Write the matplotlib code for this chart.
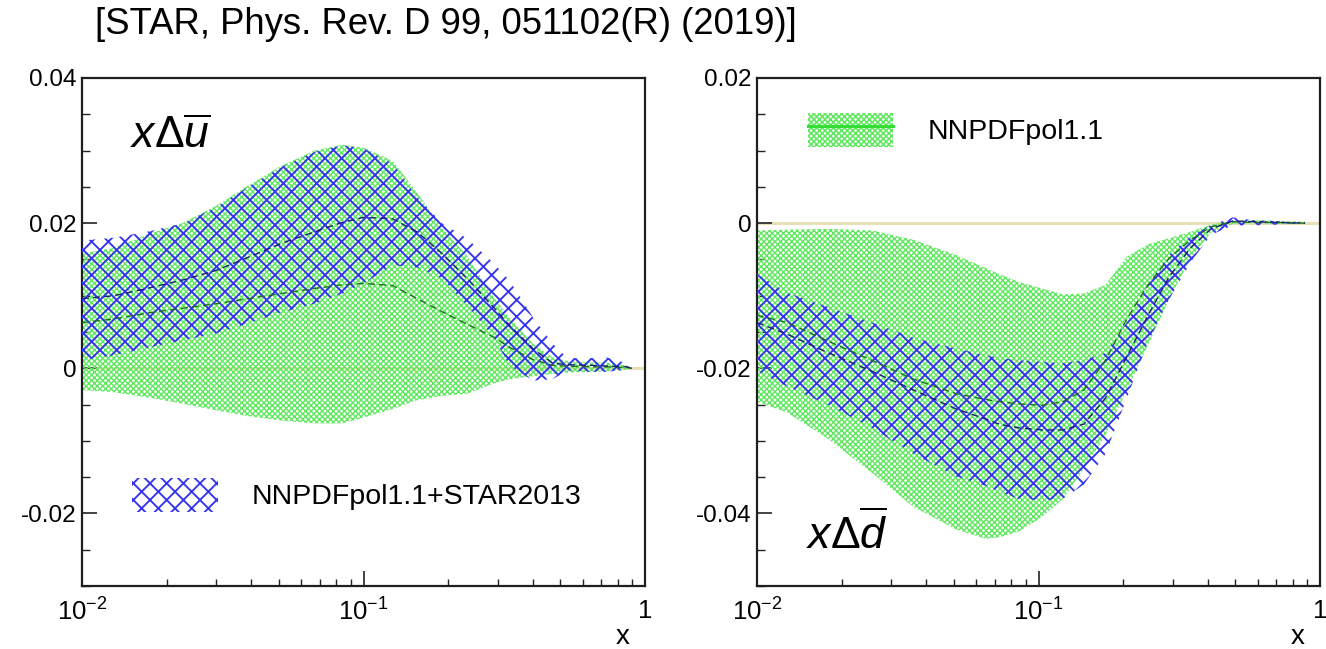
import numpy as np
import matplotlib
matplotlib.use("Agg")
import matplotlib.pyplot as plt
from matplotlib.patches import Patch
from matplotlib.lines import Line2D
from matplotlib.ticker import MultipleLocator, LogLocator, FixedLocator, FuncFormatter, NullFormatter

plt.rcParams["font.family"] = ["Liberation Sans", "DejaVu Sans"]
plt.rcParams["mathtext.fontset"] = "custom"
plt.rcParams["mathtext.rm"] = "Liberation Sans"
plt.rcParams["mathtext.it"] = "Liberation Sans:italic"
plt.rcParams["mathtext.bf"] = "Liberation Sans:bold"
plt.rcParams["axes.unicode_minus"] = False
plt.rcParams["hatch.linewidth"] = 1.1

# ---- x*Delta(ubar): NNPDFpol1.1 and NNPDFpol1.1+STAR2013 ----
ubar_x = [0.01, 0.013, 0.017, 0.023, 0.03, 0.039, 0.051, 0.067, 0.084, 0.10, 0.127,
          0.155, 0.19, 0.233, 0.29, 0.33, 0.40, 0.47, 0.53, 0.65, 0.73, 0.86, 0.90]
ubar_nnpdf_hi = [0.0158, 0.0166, 0.0184, 0.0201, 0.0224, 0.0252, 0.0279, 0.0300, 0.0308, 0.0304, 0.0286,
                 0.0242, 0.0194, 0.0155, 0.0098, 0.0070, 0.0034, 0.0015, 0.0010, 0.0008, 0.0008, 0.0004, 0.0]
ubar_nnpdf_lo = [-0.0030, -0.0033, -0.0040, -0.0049, -0.0058, -0.0066, -0.0072, -0.0076, -0.0076, -0.0068, -0.0056,
                 -0.0044, -0.0038, -0.0035, -0.0021, -0.0015, -0.0011, -0.0008, -0.0006, -0.0005, -0.0004, -0.0002, 0.0]
ubar_nnpdf_c = [0.0063, 0.0068, 0.0076, 0.0083, 0.0089, 0.0096, 0.0103, 0.0110, 0.0115, 0.0117, 0.0114,
                0.0096, 0.0078, 0.0061, 0.0043, 0.0029, 0.0012, 0.0004, 0.0003, 0.0002, 0.0002, 0.0001, 0.0]
ubar_star_hi = [0.0176, 0.0180, 0.0188, 0.0200, 0.0222, 0.0250, 0.0277, 0.0298, 0.0307, 0.0303, 0.0282,
                0.0236, 0.0200, 0.0179, 0.0145, 0.0121, 0.0070, 0.0034, 0.0014, 0.0014, 0.0015, 0.0007, 0.0]
ubar_star_lo = [0.0011, 0.0018, 0.0028, 0.0039, 0.0048, 0.0062, 0.0077, 0.0089, 0.0103, 0.0117, 0.0142,
                0.0139, 0.0124, 0.0087, 0.0043, 0.0004, -0.0017, -0.0015, -0.0003, -0.0005, -0.0005, -0.0002, 0.0]
ubar_star_c = [0.0096, 0.0100, 0.0110, 0.0122, 0.0135, 0.0153, 0.0172, 0.0188, 0.0201, 0.0208, 0.0206,
               0.0188, 0.0158, 0.0124, 0.0084, 0.0059, 0.0027, 0.0007, 0.0005, 0.0004, 0.0003, 0.0002, 0.0]

# ---- x*Delta(dbar) ----
dbar_x = [0.01, 0.0128, 0.018, 0.0256, 0.036, 0.051, 0.065, 0.0725, 0.085, 0.103, 0.122,
          0.145, 0.173, 0.206, 0.245, 0.29, 0.347, 0.41, 0.49, 0.58, 0.70, 0.885]
dbar_nnpdf_hi = [-0.0010, -0.0009, -0.0008, -0.0010, -0.0023, -0.0044, -0.0062, -0.0070, -0.0081, -0.0090, -0.0098,
                 -0.0097, -0.0085, -0.0046, -0.0029, -0.0021, -0.0012, -0.0002, 0.0003, 0.0004, 0.0003, 0.0002]
dbar_nnpdf_lo = [-0.0246, -0.0261, -0.0298, -0.0344, -0.0391, -0.0422, -0.0435, -0.0433, -0.0425, -0.0405, -0.0380,
                 -0.0339, -0.0292, -0.0230, -0.0168, -0.0106, -0.0049, -0.0013, -0.0001, 0.0000, -0.0001, -0.0001]
dbar_nnpdf_c = [-0.0127, -0.0137, -0.0163, -0.0189, -0.0215, -0.0235, -0.0243, -0.0246, -0.0249, -0.0251, -0.0246,
                -0.0230, -0.0189, -0.0132, -0.0085, -0.0049, -0.0023, -0.0005, 0.0002, 0.0001, 0.0001, 0.0]
dbar_star_hi = [-0.0070, -0.0096, -0.0116, -0.0137, -0.0158, -0.0173, -0.0182, -0.0186, -0.0189, -0.0191, -0.0193,
                -0.0189, -0.0179, -0.0137, -0.0085, -0.0044, -0.0018, -0.0003, 0.0008, 0.0004, 0.0003, 0.0]
dbar_star_lo = [-0.0204, -0.0225, -0.0251, -0.0282, -0.0318, -0.0349, -0.0362, -0.0370, -0.0380, -0.0382, -0.0380,
                -0.0360, -0.0318, -0.0241, -0.0163, -0.0106, -0.0054, -0.0016, -0.0003, -0.0003, -0.0002, 0.0]
dbar_star_c = [-0.0137, -0.0153, -0.0179, -0.0204, -0.0230, -0.0256, -0.0270, -0.0277, -0.0282, -0.0285, -0.0285,
               -0.0277, -0.0241, -0.0184, -0.0127, -0.0075, -0.0034, -0.0008, 0.0003, 0.0002, 0.0001, 0.0]

GREEN_HATCH = "#5ee85e"
BLUE_HATCH = "#3434ee"
GREEN_LINE = "#1f6e1f"
BLUE_LINE = "#1c1c7a"
ZERO_COLOR = "#e9dfb8"
GREEN_LW = 1.0
BLUE_LW = 1.35

fig = plt.figure(figsize=(13.26, 6.49), dpi=100)
ax_u = fig.add_axes([82 / 1326, 1 - 586 / 649, 563 / 1326, 508 / 649])
ax_d = fig.add_axes([757 / 1326, 1 - 586 / 649, 563 / 1326, 508 / 649])


def set_hlw(artist, lw):
    if hasattr(artist, "set_hatch_linewidth"):
        artist.set_hatch_linewidth(lw)
    return artist


def band(ax, x, lo, hi, hatch, color, z, hlw):
    xs = list(x) + list(x)[::-1]
    ys = list(hi) + list(lo)[::-1]
    for p in ax.fill(xs, ys, facecolor="none", edgecolor=color, hatch=hatch, linewidth=0, zorder=z):
        set_hlw(p, hlw)


def ylab(v, pos):
    if abs(v) < 1e-12:
        return "0"
    return "%g" % v


def style_axes(ax, ylim):
    ax.set_xscale("log")
    ax.set_xlim(0.01, 1)
    ax.set_ylim(*ylim)
    ax.axhline(0, color=ZERO_COLOR, lw=2.2, zorder=1)
    ax.xaxis.set_major_locator(FixedLocator([0.01, 0.1, 1]))
    ax.xaxis.set_minor_locator(LogLocator(base=10, subs=np.arange(2, 10)))
    ax.xaxis.set_minor_formatter(NullFormatter())
    ax.xaxis.set_major_formatter(FuncFormatter(
        lambda v, p: {0.01: r"$10^{-2}$", 0.1: r"$10^{-1}$", 1: "1"}.get(round(v, 4), "")))
    ax.yaxis.set_major_locator(MultipleLocator(0.02))
    ax.yaxis.set_minor_locator(MultipleLocator(0.005))
    ax.yaxis.set_major_formatter(FuncFormatter(ylab))
    ax.tick_params(which="both", direction="in", top=False, right=False, colors="#222222",
                   labelcolor="black")
    ax.tick_params(axis="y", which="major", length=11, width=1.2, labelsize=17.5, pad=4)
    ax.tick_params(axis="y", which="minor", length=5.5, width=1.0)
    ax.tick_params(axis="x", which="major", length=11, width=1.2, labelsize=18.5, pad=9)
    ax.tick_params(axis="x", which="minor", length=5, width=1.0)
    for s in ax.spines.values():
        s.set_linewidth(1.6)
        s.set_color("#1e1e1e")
    ax.set_xlabel("x", fontsize=20)
    ax.xaxis.set_label_coords(0.96, -0.075)


# left panel: anti-up quark
style_axes(ax_u, (-0.03, 0.04))
band(ax_u, ubar_x, ubar_nnpdf_lo, ubar_nnpdf_hi, "xxxxxx", GREEN_HATCH, 2, GREEN_LW)
band(ax_u, ubar_x, ubar_star_lo, ubar_star_hi, "xx", BLUE_HATCH, 3, BLUE_LW)
ax_u.plot(ubar_x, ubar_nnpdf_c, ls=(0, (5, 3)), color=GREEN_LINE, lw=1.0, zorder=4)
ax_u.plot(ubar_x, ubar_star_c, ls=(0, (5, 3)), color=BLUE_LINE, lw=1.0, zorder=4)
ax_u.text(0.085, 0.862, r"$x\Delta\overline{u}$", transform=ax_u.transAxes,
          fontsize=32, va="baseline", ha="left")
star_handle = set_hlw(Patch(facecolor="none", edgecolor=BLUE_HATCH, hatch="xx", linewidth=0), BLUE_LW)
leg_u = ax_u.legend([star_handle], ["NNPDFpol1.1+STAR2013"], loc="upper left",
                    bbox_to_anchor=(0.089, 0.2126), frameon=False, fontsize=20.5,
                    handlelength=3.0, handleheight=1.45, handletextpad=1.2,
                    borderpad=0, borderaxespad=0)
for h in leg_u.legend_handles:
    set_hlw(h, BLUE_LW)

# right panel: anti-down quark
style_axes(ax_d, (-0.05, 0.02))
band(ax_d, dbar_x, dbar_nnpdf_lo, dbar_nnpdf_hi, "xxxxxx", GREEN_HATCH, 2, GREEN_LW)
band(ax_d, dbar_x, dbar_star_lo, dbar_star_hi, "xx", BLUE_HATCH, 3, BLUE_LW)
ax_d.plot(dbar_x, dbar_nnpdf_c, ls=(0, (5, 3)), color=GREEN_LINE, lw=1.0, zorder=4)
ax_d.plot(dbar_x, dbar_star_c, ls=(0, (5, 3)), color=BLUE_LINE, lw=1.0, zorder=4)
ax_d.text(0.087, 0.073, r"$x\Delta\overline{d}$", transform=ax_d.transAxes,
          fontsize=32, va="baseline", ha="left")
nn_patch = set_hlw(Patch(facecolor="none", edgecolor=GREEN_HATCH, hatch="xxxxxx", linewidth=0), GREEN_LW)
nn_line = Line2D([], [], color="#33dd33", lw=2.2)
ax_d.legend([(nn_patch, nn_line)], ["NNPDFpol1.1"], loc="upper left",
            bbox_to_anchor=(0.0906, 0.931), frameon=False, fontsize=20.5,
            handlelength=3.0, handleheight=1.45, handletextpad=1.2,
            borderpad=0, borderaxespad=0)

fig.text(95 / 1326, 1 - 25 / 649, "[STAR, Phys. Rev. D 99, 051102(R) (2019)]",
         fontsize=26.3, ha="left", va="center")

fig.savefig("out.png", dpi=100)
